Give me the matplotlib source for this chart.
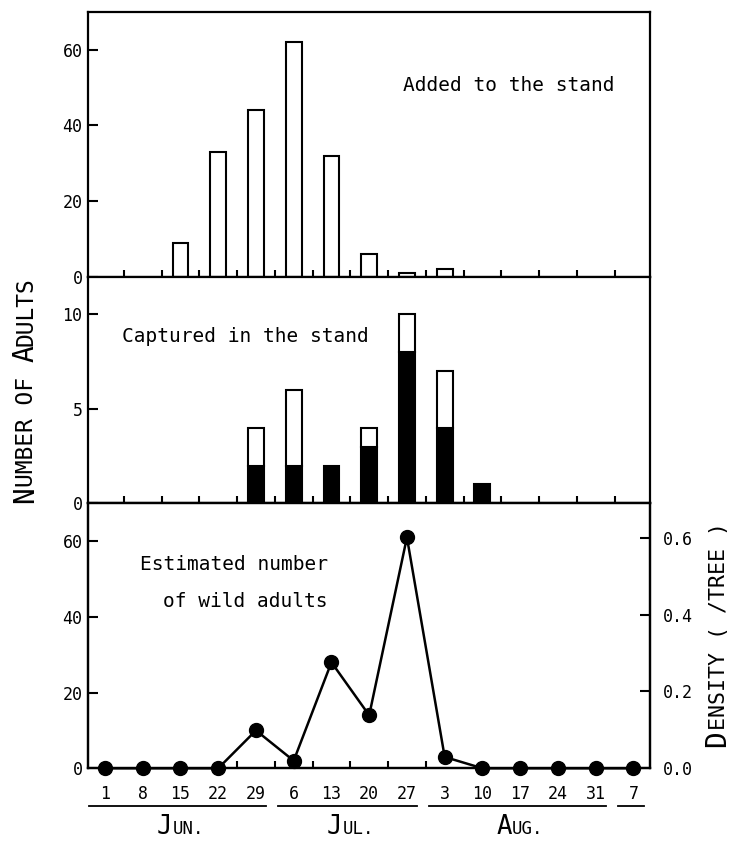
import numpy as np
import matplotlib.pyplot as plt
import matplotlib.transforms as mtransforms

plt.rcParams['font.family'] = 'DejaVu Sans Mono'
plt.rcParams['axes.linewidth'] = 1.6

W, H, DPI = 733, 841, 100

# weekly sampling dates, Jun 1 .. Sep 7
dates = ['1', '8', '15', '22', '29', '6', '13', '20', '27',
         '3', '10', '17', '24', '31', '7']
months = ['JUN.', 'JUL.', 'AUG.', '']
month_len = [5, 4, 5, 1]

added = [0, 0, 9, 33, 44, 62, 32, 6, 1, 2, 0, 0, 0, 0, 0]
captured_total = [0, 0, 0, 0, 4, 6, 2, 4, 10, 7, 1, 0, 0, 0, 0]
captured_wild = [0, 0, 0, 0, 2, 2, 2, 3, 8, 4, 1, 0, 0, 0, 0]
wild_est = [0, 0, 0, 0, 10, 2, 28, 14, 61, 3, 0, 0, 0, 0, 0]

x = np.arange(len(dates))
mid = x[:-1] + 0.5
XLIM = (-0.45, 14.44)
BW = 0.42


def caps(fig, x0, y0, parts, rotation=0):
    # small-caps style text: pieces of different size laid along one baseline,
    # centred on (x0, y0) in display pixels
    adv = [len(s) * 0.602 * fs * DPI / 72 for s, fs in parts]
    ang = np.deg2rad(rotation)
    pos = -sum(adv) / 2
    inv = fig.transFigure.inverted()
    for (s, fs), a in zip(parts, adv):
        px, py = x0 + pos * np.cos(ang), y0 + pos * np.sin(ang)
        fx, fy = inv.transform((px, py))
        fig.text(fx, fy, s, fontsize=fs, rotation=rotation,
                 rotation_mode='anchor', ha='left', va='baseline')
        pos += a


fig = plt.figure(figsize=(W / DPI, H / DPI), dpi=DPI)
left, width = 88 / W, (650 - 88) / W
ax1 = fig.add_axes([left, 1 - 276.7 / H, width, 264.7 / H])
ax2 = fig.add_axes([left, 1 - 503.3 / H, width, 226.6 / H])
ax3 = fig.add_axes([left, 1 - 768.3 / H, width, 265.0 / H])

# top: adults released
a = np.array(added)
m = a > 0
ax1.bar(x[m], a[m], width=BW, color='white', edgecolor='black', linewidth=1.5)
ax1.set_ylim(0, 70)
ax1.set_yticks([0, 20, 40, 60])
ax1.text(0.56, 0.70, 'Added to the stand', transform=ax1.transAxes,
         fontsize=14, ha='left', va='baseline')

# middle: captured, wild part in black
tot = np.array(captured_total)
wld = np.array(captured_wild)
m = wld > 0
ax2.bar(x[m], wld[m], width=BW, color='black', edgecolor='black', linewidth=1.5)
rest = tot - wld
m = rest > 0
ax2.bar(x[m], rest[m], bottom=wld[m], width=BW, color='white',
        edgecolor='black', linewidth=1.5)
ax2.set_ylim(0, 12)
ax2.set_yticks([0, 5, 10])
ax2.text(0.0605, 0.713, 'Captured in the stand', transform=ax2.transAxes,
         fontsize=14, ha='left', va='baseline')

# bottom: estimated wild population
ax3.plot(x, wild_est, color='black', linewidth=1.8, marker='o',
         markersize=10, clip_on=False, zorder=5)
ax3.set_ylim(0, 70)
ax3.set_yticks([0, 20, 40, 60])
ax3.text(0.0925, 0.748, 'Estimated number', transform=ax3.transAxes,
         fontsize=14, ha='left', va='baseline')
ax3.text(0.1335, 0.609, 'of wild adults', transform=ax3.transAxes,
         fontsize=14, ha='left', va='baseline')

ax3r = ax3.twinx()
ax3r.set_ylim(0, 0.69)
ax3r.set_yticks([0, 0.2, 0.4, 0.6], ['0.0', '0.2', '0.4', '0.6'])
ax3r.tick_params(axis='y', direction='in', length=7, width=1.5, pad=9,
                 labelsize=12)

for ax in (ax1, ax2, ax3):
    ax.set_xlim(*XLIM)
    ax.tick_params(axis='y', direction='in', length=7, width=1.5, pad=4,
                   labelsize=12)
    ax.set_xticks(x)
    ax.tick_params(axis='x', which='major', length=0)
    ax.tick_params(axis='x', which='minor', direction='in', length=5,
                   width=1.5)

ax1.set_xticks(mid, minor=True)
ax2.set_xticks(mid, minor=True)
ax3.set_xticks(mid[3:9], minor=True)
ax1.tick_params(labelbottom=False)
ax2.tick_params(labelbottom=False)
ax3.set_xticklabels(dates)
ax3.tick_params(axis='x', which='major', pad=12, labelsize=12)

# month underlines and names
trans = mtransforms.blended_transform_factory(ax3.transData, fig.transFigure)
start = 0
for name, n in zip(months, month_len):
    idx = x[start:start + n]
    ax3.plot([idx[0] - 0.42, idx[-1] + 0.27], [35 / H, 35 / H],
             color='black', linewidth=1.3, transform=trans, clip_on=False)
    if name:
        cx = ax3.transData.transform((idx.mean(), 0))[0]
        caps(fig, cx, 7, [(name[0], 18.5), (name[1:], 12.5)])
    start += n

caps(fig, 33, H - 390, [('N', 20), ('UMBER OF ', 16.5), ('A', 20),
                        ('DULTS', 16.5)], rotation=90)
caps(fig, 725, H - 635, [('D', 20), ('ENSITY ( /TREE )', 15.5)], rotation=90)

fig.savefig('out.png', dpi=DPI)
